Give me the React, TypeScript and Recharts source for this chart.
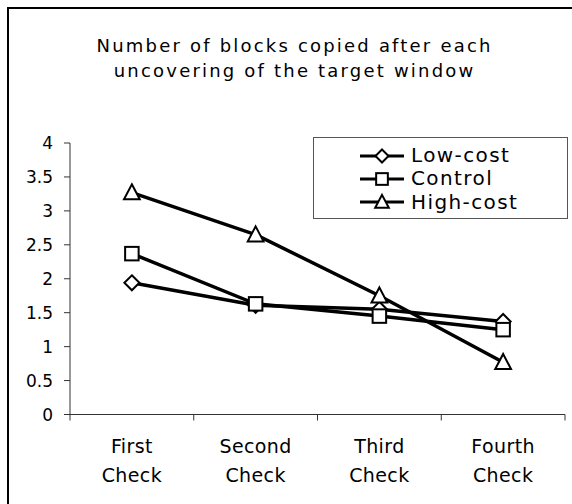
import React from "react";
import { LineChart, Line, XAxis, YAxis, Legend } from "recharts";

const categories = ["First Check", "Second Check", "Third Check", "Fourth Check"];
const lowCost = [1.94, 1.61, 1.55, 1.37];
const control = [2.37, 1.63, 1.45, 1.25];
const highCost = [3.27, 2.65, 1.75, 0.77];
const yTicks = [0, 0.5, 1, 1.5, 2, 2.5, 3, 3.5, 4];

const seriesKeys = ["low", "control", "high"];
const seriesNames = ["Low-cost", "Control", "High-cost"];
const seriesShapes = ["diamond", "square", "triangle"];

const data = categories.map((name, i) => ({
  name,
  low: lowCost[i],
  control: control[i],
  high: highCost[i],
}));

const FONT = "'DejaVu Sans', Verdana, sans-serif";

function Marker({ shape, cx, cy, r = 7.5 }: any) {
  if (cx == null || cy == null) return null;
  const common = { fill: "#fff", stroke: "#000", strokeWidth: 2 };
  if (shape === "diamond") {
    return (
      <polygon
        {...common}
        points={`${cx},${cy - r} ${cx + r},${cy} ${cx},${cy + r} ${cx - r},${cy}`}
      />
    );
  }
  if (shape === "square") {
    const s = r * 0.9;
    return <rect {...common} x={cx - s} y={cy - s} width={s * 2} height={s * 2} />;
  }
  const w = r * 1.05;
  return (
    <polygon
      {...common}
      points={`${cx},${cy - r * 1.1} ${cx + w},${cy + r * 0.9} ${cx - w},${cy + r * 0.9}`}
    />
  );
}

function CategoryTick(props: any) {
  const { x, y, payload, width, visibleTicksCount, index } = props;
  const half =
    payload && typeof payload.offset === "number" && payload.offset > 0
      ? payload.offset
      : width / visibleTicksCount / 2;
  const [l1, l2] = String(payload.value).split(" ");
  const isLast = index === visibleTicksCount - 1;
  return (
    <g>
      <line x1={x - half} x2={x - half} y1={y} y2={y + 6} stroke="#333" />
      {isLast && <line x1={x + half} x2={x + half} y1={y} y2={y + 6} stroke="#333" />}
      <text
        x={x}
        y={y}
        textAnchor="middle"
        fontSize={19}
        letterSpacing={0.4}
        fill="#000"
        fontFamily={FONT}
      >
        <tspan x={x} dy={38.5}>
          {l1}
        </tspan>
        <tspan x={x} dy={29}>
          {l2}
        </tspan>
      </text>
    </g>
  );
}

function LegendBox() {
  return (
    <div
      style={{
        width: "100%",
        height: "100%",
        boxSizing: "border-box",
        border: "1px solid #555",
        background: "#fff",
        paddingTop: 6,
        paddingLeft: 46,
        fontFamily: FONT,
        fontSize: 20,
        letterSpacing: 1.4,
        lineHeight: "23.3px",
        color: "#000",
      }}
    >
      {seriesNames.map((name, i) => (
        <div key={name} style={{ display: "flex", alignItems: "center", height: 23.3 }}>
          <svg width={44} height={22} style={{ display: "block" }}>
            <line x1={0} x2={44} y1={11} y2={11} stroke="#000" strokeWidth={3} />
            <Marker shape={seriesShapes[i]} cx={22} cy={11} r={6.5} />
          </svg>
          <span style={{ marginLeft: 7, whiteSpace: "nowrap" }}>{name}</span>
        </div>
      ))}
    </div>
  );
}

export default function App() {
  return (
    <div
      style={{
        position: "fixed",
        left: 0,
        top: 0,
        width: 572,
        height: 504,
        overflow: "hidden",
        background: "#fff",
      }}
    >
      <div
        style={{
          position: "absolute",
          left: 7,
          top: 7,
          width: 620,
          height: 540,
          border: "2px solid #000",
        }}
      />
      <div
        style={{
          position: "absolute",
          left: 0,
          top: 32.6,
          width: 587,
          paddingLeft: 2.2,
          boxSizing: "border-box",
          textAlign: "center",
          fontFamily: FONT,
          fontSize: 18,
          lineHeight: "25px",
          letterSpacing: 2.2,
          color: "#000",
        }}
      >
        <div>Number of blocks copied after each</div>
        <div>uncovering of the target window</div>
      </div>
      <div style={{ position: "absolute", left: 0, top: 0 }}>
        <LineChart
          width={572}
          height={504}
          data={data}
          margin={{ top: 143, right: 7, bottom: 29.5, left: 10 }}
        >
          <XAxis
            dataKey="name"
            scale="band"
            interval={0}
            tickLine={false}
            tickSize={0}
            tickMargin={0}
            height={60}
            stroke="#333"
            tick={<CategoryTick />}
          />
          <YAxis
            domain={[0, 4]}
            ticks={yTicks}
            interval={0}
            width={60}
            tickSize={6}
            tickMargin={11}
            stroke="#333"
            tick={{ fill: "#000", fontSize: 17, fontFamily: FONT }}
          />
          <Legend
            layout="vertical"
            align="center"
            verticalAlign="middle"
            content={<LegendBox />}
            wrapperStyle={{ position: "absolute", left: 313, top: 137, width: 255, height: 82 }}
          />
          {seriesKeys.map((k, i) => (
            <Line
              key={k}
              dataKey={k}
              name={seriesNames[i]}
              stroke="#000"
              strokeWidth={3.5}
              isAnimationActive={false}
              activeDot={false}
              dot={(p: any) => (
                <Marker key={`${k}-${p.index}`} shape={seriesShapes[i]} cx={p.cx} cy={p.cy} />
              )}
            />
          ))}
        </LineChart>
      </div>
    </div>
  );
}
